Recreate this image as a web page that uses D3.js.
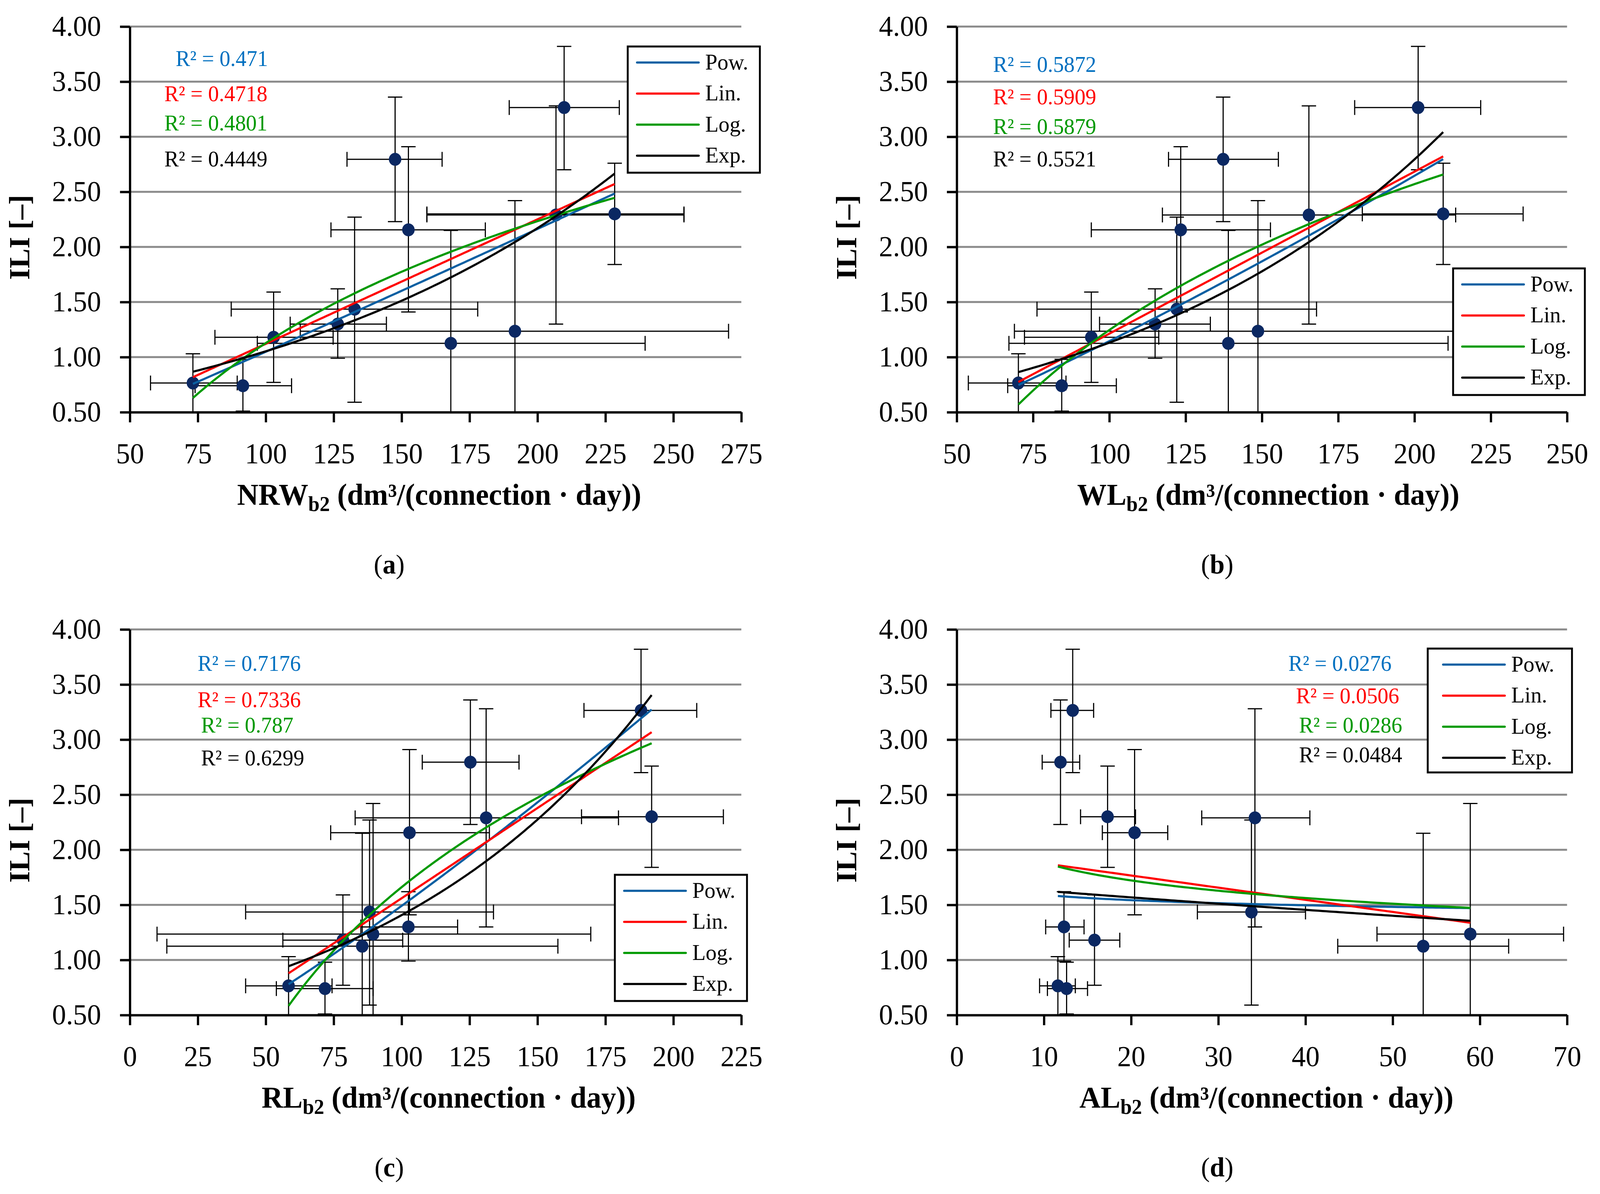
<!DOCTYPE html>
<html>
<head>
<meta charset="utf-8">
<script src="https://cdnjs.cloudflare.com/ajax/libs/d3/7.8.5/d3.min.js"></script>
<style>
  html, body { margin: 0; padding: 0; width: 100%; height: 100%; overflow: hidden; background: #fff; }
  #chart svg { display: block; width: 100vw; height: 100vh; }
  svg text { font-family: "Palatino Linotype", "Book Antiqua", Palatino, "Liberation Serif", serif; }
</style>
</head>
<body>
<div id="chart"></div>
<script>
// ILI values, shared by the four panels, with their vertical error bar ends
const ili   = [0.765, 0.74, 1.18, 1.30, 1.435, 2.795, 2.155, 1.125, 1.235, 2.29, 3.265, 2.30];
const iliHi = [1.03, 0.98, 1.59, 1.62, 2.27, 3.36, 2.91, 2.15, 2.42, 3.28, 3.82, 2.76];
const iliLo = [0.47, 0.51, 0.77, 0.99, 0.59, 2.23, 1.41, 0.20, 0.20, 1.30, 2.70, 1.84];

// (a) NRW_b2
const nrw   = [73.2, 91.6, 102.9, 126.5, 132.7, 147.6, 152.5, 168.1, 191.7, 206.8, 209.8, 228.4];
const nrwLo = [57.6, 74.0, 81.3, 109.0, 87.3, 129.9, 124.0, 96.9, 112.7, 159.3, 189.6, 159.3];
const nrwHi = [89.5, 109.5, 124.8, 144.4, 178.0, 164.9, 180.8, 239.6, 270.3, 253.9, 230.1, 253.9];

// (b) WL_b2
const wl   = [70.2, 84.4, 94.1, 115.0, 122.1, 137.3, 123.4, 139.0, 148.7, 165.4, 201.2, 209.4];
const wlLo = [53.8, 66.7, 72.2, 96.8, 76.3, 119.4, 94.1, 67.1, 68.9, 117.4, 180.4, 182.9];
const wlHi = [85.8, 102.3, 116.2, 133.1, 167.9, 155.4, 152.8, 211.0, 222.0, 213.5, 221.7, 235.6];

// (c) RL_b2
const rl   = [58.4, 71.8, 78.4, 102.5, 88.2, 125.3, 102.9, 85.5, 89.5, 131.1, 188.1, 192.0];
const rlLo = [42.6, 53.9, 56.3, 85.0, 42.6, 107.6, 73.9, 13.6, 10.0, 82.9, 167.1, 166.2];
const rlHi = [74.4, 89.5, 100.4, 120.6, 133.8, 143.2, 132.3, 157.5, 169.6, 179.8, 208.6, 218.4];

// (d) AL_b2
const al   = [11.6, 12.6, 15.8, 12.3, 33.8, 11.9, 20.4, 53.5, 58.9, 34.2, 13.3, 17.3];
const alLo = [9.5, 10.4, 12.9, 10.2, 27.6, 9.8, 16.7, 43.7, 48.2, 28.1, 10.8, 14.2];
const alHi = [13.6, 15.0, 18.7, 14.6, 40.0, 14.1, 24.2, 63.3, 69.6, 40.5, 15.7, 20.5];

// R² labels of the trend lines (Pow., Lin., Log., Exp.)
const r2a = ["0.471", "0.4718", "0.4801", "0.4449"];
const r2b = ["0.5872", "0.5909", "0.5879", "0.5521"];
const r2c = ["0.7176", "0.7336", "0.787", "0.6299"];
const r2d = ["0.0276", "0.0506", "0.0286", "0.0484"];

const yTicks  = [0.5, 1.0, 1.5, 2.0, 2.5, 3.0, 3.5, 4.0];
const xTicksA = [50, 75, 100, 125, 150, 175, 200, 225, 250, 275];
const xTicksB = [50, 75, 100, 125, 150, 175, 200, 225, 250];
const xTicksC = [0, 25, 50, 75, 100, 125, 150, 175, 200, 225];
const xTicksD = [0, 10, 20, 30, 40, 50, 60, 70];

const trendNames = ["Pow.", "Lin.", "Log.", "Exp."];
const trendColors = ["#0a5fa2", "#ff0000", "#009a00", "#000000"];
const r2Colors = ["#0070c0", "#ff0000", "#009900", "#000000"];

// least squares, the way the spreadsheet trend lines are fitted
function ols(xs, ys) {
  const mx = d3.mean(xs), my = d3.mean(ys);
  const b = d3.sum(xs, (v, i) => (v - mx) * (ys[i] - my)) / d3.sum(xs, v => (v - mx) * (v - mx));
  return {a: my - b * mx, b: b};
}
const fitters = [
  (xs, ys) => { const f = ols(xs.map(Math.log), ys.map(Math.log)); return v => Math.exp(f.a) * Math.pow(v, f.b); },
  (xs, ys) => { const f = ols(xs, ys); return v => f.a + f.b * v; },
  (xs, ys) => { const f = ols(xs.map(Math.log), ys); return v => f.a + f.b * Math.log(v); },
  (xs, ys) => { const f = ols(xs, ys.map(Math.log)); return v => Math.exp(f.a + f.b * v); }
];

const W = 4226, H = 3056;
// drawn in a 4226x3056 frame, stretched to whatever the viewport really is
const svg = d3.select("#chart").append("svg")
  .attr("viewBox", `0 0 ${W} ${H}`)
  .attr("preserveAspectRatio", "none")
  .style("background", "#fff");

const panels = [
  {id: "a", xs: nrw, lo: nrwLo, hi: nrwHi, r2: r2a, ticks: xTicksA, domain: [50, 275], name: "NRW",
   left: 343, right: 1958, top: 68, bottom: 1055, titleX: 1160, labelX: 1028,
   legend: {x: 1658, y: 119, w: 349, h: 323},
   r2pos: [[464, 169], [434, 259], [434, 334], [434, 426]]},
  {id: "b", xs: wl, lo: wlLo, hi: wlHi, r2: r2b, ticks: xTicksB, domain: [50, 250], name: "WL",
   left: 2527, right: 4139, top: 68, bottom: 1055, titleX: 3350, labelX: 3215,
   legend: {x: 3838, y: 687, w: 348, h: 324},
   r2pos: [[2623, 184], [2623, 267], [2623, 343], [2623, 426]]},
  {id: "c", xs: rl, lo: rlLo, hi: rlHi, r2: r2c, ticks: xTicksC, domain: [0, 225], name: "RL",
   left: 343, right: 1958, top: 1611, bottom: 2598, titleX: 1185, labelX: 1028,
   legend: {x: 1624, y: 2239, w: 349, h: 323},
   r2pos: [[522, 1717], [522, 1810], [531, 1875], [531, 1959]]},
  {id: "d", xs: al, lo: alLo, hi: alHi, r2: r2d, ticks: xTicksD, domain: [0, 70], name: "AL",
   left: 2527, right: 4139, top: 1611, bottom: 2598, titleX: 3345, labelX: 3215,
   legend: {x: 3771, y: 1660, w: 381, h: 317},
   r2pos: [[3403, 1717], [3423, 1800], [3431, 1875], [3431, 1951]]}
];

function drawPanel(p) {
  const g = svg.append("g").attr("class", "panel-" + p.id);
  const x = d3.scaleLinear().domain(p.domain).range([p.left, p.right]);
  const y = d3.scaleLinear().domain([0.5, 4]).range([p.bottom, p.top]);

  // horizontal gridlines
  g.selectAll(".grid").data(yTicks.filter(v => v > 0.5)).enter()
    .append("line").attr("class", "grid")
    .attr("x1", p.left).attr("x2", p.right)
    .attr("y1", d => y(d)).attr("y2", d => y(d))
    .attr("stroke", "#8a8a8a").attr("stroke-width", 5);

  svg.append("clipPath").attr("id", "clip-" + p.id)
    .append("rect")
    .attr("x", p.left).attr("y", p.top)
    .attr("width", p.right - p.left).attr("height", p.bottom - p.top);
  const plot = g.append("g").attr("clip-path", `url(#clip-${p.id})`);

  const pts = p.xs.map((v, i) => ({x: v, y: ili[i], xlo: p.lo[i], xhi: p.hi[i], ylo: iliLo[i], yhi: iliHi[i]}));
  const cap = 19;

  // error bars
  const eb = plot.append("g").attr("stroke", "#000").attr("stroke-width", 3).attr("fill", "none");
  eb.selectAll(".hbar").data(pts).enter().append("path")
    .attr("d", d => `M${x(d.xlo)},${y(d.y)}H${x(d.xhi)}` +
      `M${x(d.xlo)},${y(d.y) - cap}V${y(d.y) + cap}` +
      `M${x(d.xhi)},${y(d.y) - cap}V${y(d.y) + cap}`);
  eb.selectAll(".vbar").data(pts).enter().append("path")
    .attr("d", d => `M${x(d.x)},${y(d.ylo)}V${y(d.yhi)}` +
      `M${x(d.x) - cap},${y(d.yhi)}H${x(d.x) + cap}` +
      `M${x(d.x) - cap},${y(d.ylo)}H${x(d.x) + cap}`);

  // markers
  plot.selectAll(".pt").data(pts).enter().append("circle")
    .attr("cx", d => x(d.x)).attr("cy", d => y(d.y)).attr("r", 16.5)
    .attr("fill", "#0b2862");

  // trend lines over the data range
  const xmin = d3.min(p.xs), xmax = d3.max(p.xs);
  const xsGrid = d3.range(0, 121).map(k => xmin + (xmax - xmin) * k / 120);
  fitters.forEach((fit, k) => {
    const fn = fit(p.xs, ili);
    plot.append("path")
      .datum(xsGrid)
      .attr("d", d3.line().x(v => x(v)).y(v => y(fn(v))))
      .attr("fill", "none")
      .attr("stroke", trendColors[k])
      .attr("stroke-width", 5.5);
  });

  // axes
  const xAxis = d3.axisBottom(x).tickValues(p.ticks).tickSizeInner(26).tickSizeOuter(0)
    .tickPadding(52).tickFormat(d3.format("d"));
  const yAxis = d3.axisLeft(y).tickValues(yTicks).tickSizeInner(26).tickSizeOuter(0)
    .tickPadding(50).tickFormat(d3.format(".2f"));
  const gx = g.append("g").attr("transform", `translate(0,${p.bottom})`).call(xAxis);
  const gy = g.append("g").attr("transform", `translate(${p.left},0)`).call(yAxis);
  [gx, gy].forEach(a => {
    a.select(".domain").attr("stroke", "#000").attr("stroke-width", 6);
    a.selectAll(".tick line").attr("stroke", "#000").attr("stroke-width", 6);
    a.selectAll(".tick text").attr("font-size", 74).attr("fill", "#000")
      .style("font-family", "'Palatino Linotype','Book Antiqua',Palatino,'Liberation Serif',serif");
  });

  // R² labels
  p.r2.forEach((v, k) => {
    g.append("text")
      .attr("x", p.r2pos[k][0]).attr("y", p.r2pos[k][1])
      .attr("font-size", 57).attr("fill", r2Colors[k])
      .text("R² = " + v);
  });

  // axis titles
  g.append("text")
    .attr("transform", `translate(${p.left - 292},${(p.top + p.bottom) / 2 + 46}) rotate(-90)`)
    .attr("text-anchor", "middle").attr("dy", "0.35em")
    .attr("font-size", 76).attr("font-weight", "bold")
    .text("ILI [–]");

  const xt = g.append("text")
    .attr("x", p.titleX).attr("y", p.bottom + 237)
    .attr("text-anchor", "middle").attr("font-size", 78).attr("font-weight", "bold");
  xt.append("tspan").text(p.name);
  xt.append("tspan").attr("font-size", 54).attr("dy", 16).text("b2");
  xt.append("tspan").attr("dy", -16).text(" (dm³/(connection · day))");

  const lab = g.append("text")
    .attr("x", p.labelX).attr("y", p.bottom + 413)
    .attr("text-anchor", "middle").attr("font-size", 70);
  lab.append("tspan").text("(");
  lab.append("tspan").attr("font-weight", "bold").text(p.id);
  lab.append("tspan").text(")");

  // legend
  const L = p.legend;
  const lg = g.append("g").attr("transform", `translate(${L.x},${L.y})`);
  lg.append("rect").attr("width", L.w).attr("height", L.h)
    .attr("fill", "#fff").attr("stroke", "#000").attr("stroke-width", 5);
  const pad = (L.w - 300) / 2;
  trendNames.forEach((nm, k) => {
    const yy = 41 + k * 79.5;
    lg.append("line").attr("x1", pad).attr("x2", pad + 163).attr("y1", yy).attr("y2", yy)
      .attr("stroke", trendColors[k]).attr("stroke-width", 5.5).attr("stroke-linecap", "round");
    lg.append("text").attr("x", pad + 180).attr("y", yy + 18)
      .attr("font-size", 58).attr("fill", "#000").text(nm);
  });
}

panels.forEach(drawPanel);
</script>
</body>
</html>
